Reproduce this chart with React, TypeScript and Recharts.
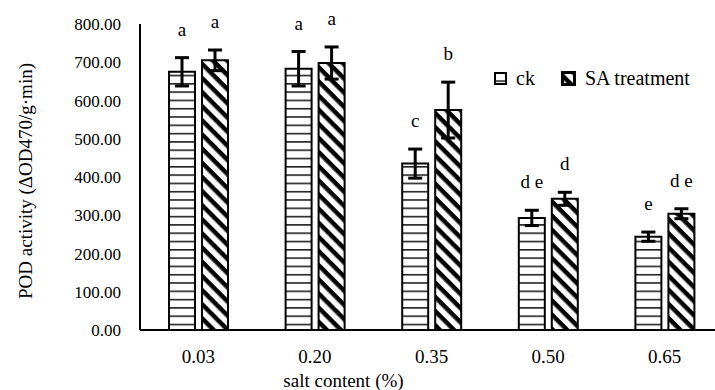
import React from 'react';
import { BarChart, Bar, XAxis, YAxis, ErrorBar, Legend, LabelList, Label } from 'recharts';

const saltContent = ['0.03', '0.20', '0.35', '0.50', '0.65'];
const ckValues = [675, 683, 435, 293, 244];
const ckErrors = [37, 45, 38, 20, 12];
const ckLetters = ['a', 'a', 'c', 'd e', 'e'];
const saValues = [705, 698, 575, 343, 304];
const saErrors = [27, 42, 73, 17, 13];
const saLetters = ['a', 'a', 'b', 'd', 'd e'];
const yTicks = [0, 100, 200, 300, 400, 500, 600, 700, 800];

const data = saltContent.map((s, i) => ({
  salt: s,
  ck: ckValues[i],
  ckErr: ckErrors[i],
  ckLetter: ckLetters[i],
  sa: saValues[i],
  saErr: saErrors[i],
  saLetter: saLetters[i],
}));

const serif = "'Liberation Serif', 'Times New Roman', serif";

// letter sits a bit above the top of the error bar
const letterLabel = (values: number[], errors: number[]) => (props: any) => {
  const { x, y, width, height, index, value } = props;
  const errPx = (errors[index] * Number(height)) / values[index];
  return (
    <text
      x={Number(x) + Number(width) / 2}
      y={Number(y) - errPx - 22}
      textAnchor="middle"
      fontSize={19}
      fontFamily={serif}
      fill="#000"
    >
      {value}
    </text>
  );
};

const Patterns = ({ prefix }: { prefix: string }) => (
  <defs>
    <pattern id={`${prefix}-h`} patternUnits="userSpaceOnUse" width={8} height={8.3}>
      <rect width={8} height={8.3} fill="#fff" />
      <rect y={0} width={8} height={1.6} fill="#222" />
    </pattern>
    <pattern id={`${prefix}-d`} patternUnits="userSpaceOnUse" width={10} height={10} patternTransform="rotate(45)">
      <rect width={10} height={10} fill="#fff" />
      <rect y={0} width={10} height={4.5} fill="#000" />
    </pattern>
  </defs>
);

const renderLegend = () => (
  <div style={{ display: 'flex', alignItems: 'center', fontFamily: serif, fontSize: 20, color: '#000', whiteSpace: 'nowrap' }}>
    <svg width={13} height={13}>
      <Patterns prefix="lg" />
      <rect x={1} y={1} width={11} height={11} fill="url(#lg-h)" stroke="#000" strokeWidth={2} />
    </svg>
    <span style={{ marginLeft: 9 }}>ck</span>
    <svg width={15} height={15} style={{ marginLeft: 26 }}>
      <rect x={1.5} y={1.5} width={12} height={12} fill="url(#lg-d)" stroke="#000" strokeWidth={3} />
    </svg>
    <span style={{ marginLeft: 9 }}>SA treatment</span>
  </div>
);

export default function App() {
  return (
    <div style={{ position: 'absolute', left: 0, top: 0, width: 715, height: 390, overflow: 'hidden', background: '#fff' }}>
      <BarChart
        width={730}
        height={390}
        data={data}
        margin={{ top: 24, right: 7, bottom: 0, left: 0 }}
        barSize={26}
        barGap={7}
      >
        <Patterns prefix="ch" />
        <XAxis
          dataKey="salt"
          height={60}
          tickLine={false}
          axisLine={{ stroke: '#000', strokeWidth: 2 }}
          tick={{ fill: '#000', fontSize: 19, fontFamily: serif }}
          tickMargin={14}
        >
          <Label
            value="salt content (%)"
            position="insideBottom"
            offset={3}
            dx={-88}
            style={{ fill: '#000', fontSize: 19, fontFamily: serif }}
          />
        </XAxis>
        <YAxis
          width={140}
          domain={[0, 800]}
          ticks={yTicks}
          interval={0}
          tickFormatter={(v: number) => v.toFixed(2)}
          tickLine={false}
          axisLine={{ stroke: '#000', strokeWidth: 2 }}
          tick={{ fill: '#000', fontSize: 17, fontFamily: serif }}
          tickMargin={13}
        >
          <Label
            value="POD activity (ΔOD470/g·min)"
            angle={-90}
            position="insideLeft"
            offset={25}
            dy={4}
            style={{ fill: '#000', fontSize: 19, fontFamily: serif, textAnchor: 'middle' }}
          />
        </YAxis>
        <Legend
          layout="horizontal"
          verticalAlign="middle"
          align="center"
          content={renderLegend}
          wrapperStyle={{ left: 494, top: 67, width: 'auto' }}
        />
        <Bar dataKey="ck" name="ck" fill="url(#ch-h)" stroke="#000" strokeWidth={2} isAnimationActive={false}>
          <ErrorBar dataKey="ckErr" width={7} stroke="#000" strokeWidth={3} />
          <LabelList dataKey="ckLetter" content={letterLabel(ckValues, ckErrors)} />
        </Bar>
        <Bar dataKey="sa" name="SA treatment" fill="url(#ch-d)" stroke="#000" strokeWidth={2} isAnimationActive={false}>
          <ErrorBar dataKey="saErr" width={7} stroke="#000" strokeWidth={3} />
          <LabelList dataKey="saLetter" content={letterLabel(saValues, saErrors)} />
        </Bar>
      </BarChart>
    </div>
  );
}
